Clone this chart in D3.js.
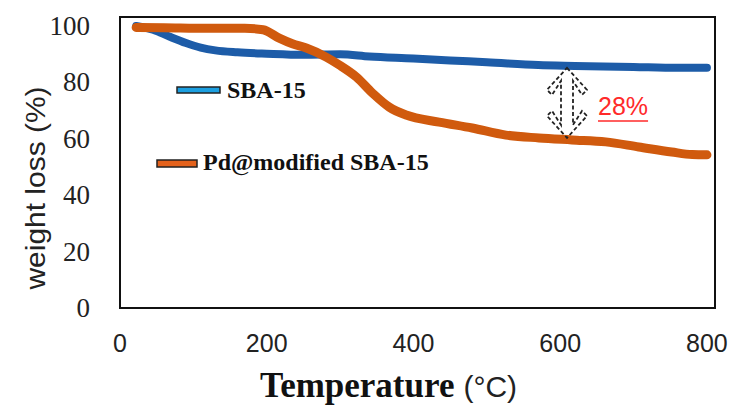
<!DOCTYPE html>
<html>
<head>
<meta charset="utf-8">
<script src="https://cdn.jsdelivr.net/npm/d3@7"></script>
<style>
  html, body { margin: 0; padding: 0; background: #fff; }
  svg { display: block; }
</style>
</head>
<body>
<svg id="chart" width="731" height="405"></svg>
<script>
// ---- data (temperature °C, weight %) ----
const sbaTemp   = [22, 45, 68, 90, 110, 130, 160, 200, 250, 300, 340, 400, 450, 500, 570, 620, 700, 760, 800];
const sbaWeight = [99.8, 98.5, 96.0, 93.8, 92.2, 91.2, 90.5, 90.0, 89.6, 89.8, 89.0, 88.3, 87.6, 87.0, 86.0, 85.7, 85.3, 85.0, 85.0];

const pdTemp   = [22, 60, 120, 170, 195, 217, 235, 254, 281, 299, 322, 344, 367, 390, 435, 480, 526, 571, 616, 662, 707, 752, 780, 800];
const pdWeight = [99.3, 99.2, 99.0, 99.0, 98.5, 95.5, 93.5, 92.0, 88.8, 86.0, 81.8, 76.1, 71.1, 68.3, 65.8, 63.7, 61.2, 60.2, 59.5, 58.8, 57.0, 55.2, 54.3, 54.2];

const xTicks = [0, 200, 400, 600, 800];
const yTicks = [0, 20, 40, 60, 80, 100];
const seriesNames = ["SBA-15", "Pd@modified SBA-15"];
const gapLabel = "28%";
const gapTemp = 612;       // where the gap arrow is placed
const gapTop = 85.7;       // SBA-15 value at gapTemp
const gapBottom = 59.5;    // Pd@modified value at gapTemp

// ---- layout ----
const L = 120, R = 715, T = 17, B = 308;
const svg = d3.select("#chart");

const x = d3.scaleLinear().domain([0, 811]).range([L, R]);
const y = d3.scaleLinear().domain([0, 103]).range([B, T]);

// curves
const line = d3.line().x(d => x(d[0])).y(d => y(d[1])).curve(d3.curveMonotoneX);
const sba = d3.zip(sbaTemp, sbaWeight);
const pd = d3.zip(pdTemp, pdWeight);

svg.append("path").datum(sba).attr("d", line)
  .attr("fill", "none").attr("stroke", "#1d5ca8").attr("stroke-width", 8)
  .attr("stroke-linecap", "round").attr("stroke-linejoin", "round");
svg.append("path").datum(pd).attr("d", line)
  .attr("fill", "none").attr("stroke", "#d05a0e").attr("stroke-width", 9)
  .attr("stroke-linecap", "round").attr("stroke-linejoin", "round");

// frame
svg.append("rect").attr("x", L).attr("y", T).attr("width", R - L).attr("height", B - T)
  .attr("fill", "none").attr("stroke", "#111").attr("stroke-width", 2);

// x ticks labels
svg.append("g").selectAll("text").data(xTicks).join("text")
  .attr("x", d => x(d)).attr("y", 352)
  .attr("text-anchor", "middle")
  .attr("font-family", "Liberation Sans, Arial, sans-serif")
  .attr("font-size", 25).attr("fill", "#222")
  .text(d => d);

// y tick labels
svg.append("g").selectAll("text").data(yTicks).join("text")
  .attr("x", 90).attr("y", d => y(d))
  .attr("dy", "0.34em")
  .attr("text-anchor", "end")
  .attr("font-family", "Liberation Serif, Times New Roman, serif")
  .attr("font-size", 27).attr("fill", "#222")
  .text(d => d);

// axis titles
svg.append("text")
  .attr("transform", "translate(45,188) rotate(-90)")
  .attr("text-anchor", "middle")
  .attr("font-family", "Liberation Sans, Arial, sans-serif")
  .attr("font-size", 28).attr("fill", "#222")
  .attr("textLength", 203).attr("lengthAdjust", "spacingAndGlyphs")
  .text("weight loss (%)");

const xt = svg.append("text").attr("x", 260).attr("y", 397);
xt.append("tspan")
  .attr("font-family", "Liberation Serif, Times New Roman, serif")
  .attr("font-weight", "bold").attr("font-size", 35).attr("fill", "#111")
  .text("Temperature");
xt.append("tspan").attr("dx", 9)
  .attr("font-family", "Liberation Sans, Arial, sans-serif")
  .attr("font-size", 30).attr("fill", "#222")
  .text("(°C)");

// legend
const legend = [
  { name: seriesNames[0], fill: "#1c9fe0", sx: 177, sy: 87, sw: 43, sh: 6, tx: 227, ty: 98 },
  { name: seriesNames[1], fill: "#e4621c", sx: 157, sy: 160, sw: 40, sh: 7, tx: 203, ty: 170 }
];
const lg = svg.append("g");
lg.selectAll("rect").data(legend).join("rect")
  .attr("x", d => d.sx).attr("y", d => d.sy).attr("width", d => d.sw).attr("height", d => d.sh)
  .attr("fill", d => d.fill).attr("stroke", "#222").attr("stroke-width", 1.5);
lg.selectAll("text").data(legend).join("text")
  .attr("x", d => d.tx).attr("y", d => d.ty)
  .attr("font-family", "Liberation Serif, Times New Roman, serif")
  .attr("font-weight", "bold").attr("font-size", 24).attr("fill", "#111")
  .text(d => d.name);

// dashed double arrow
const cx = x(gapTemp) - 2, y1 = y(gapTop) + 2, y2 = y(gapBottom) - 2;
const hw = 20, hl = 22, sw = 6, t = 5;
const pts = [
  [cx, y1], [cx + hw, y1 + hl], [cx + hw - t, y1 + hl + t], [cx + sw, y1 + 13],
  [cx + sw, y2 - 13], [cx + hw - t, y2 - hl - t], [cx + hw, y2 - hl], [cx, y2],
  [cx - hw, y2 - hl], [cx - hw + t, y2 - hl - t], [cx - sw, y2 - 13],
  [cx - sw, y1 + 13], [cx - hw + t, y1 + hl + t], [cx - hw, y1 + hl]
];
svg.append("path").attr("d", d3.line()(pts) + "Z")
  .attr("fill", "none").attr("stroke", "#222").attr("stroke-width", 1.8)
  .attr("stroke-dasharray", "4,2.5");

// 28% label
const lab = svg.append("text").attr("x", 598).attr("y", 115)
  .attr("font-family", "Liberation Sans, Arial, sans-serif")
  .attr("font-size", 25).attr("fill", "#ff2a2a").text(gapLabel);
const bb = lab.node().getBBox();
svg.append("line").attr("x1", bb.x).attr("x2", bb.x + bb.width)
  .attr("y1", 121).attr("y2", 121).attr("stroke", "#ff2a2a").attr("stroke-width", 1.6);
</script>
</body>
</html>
